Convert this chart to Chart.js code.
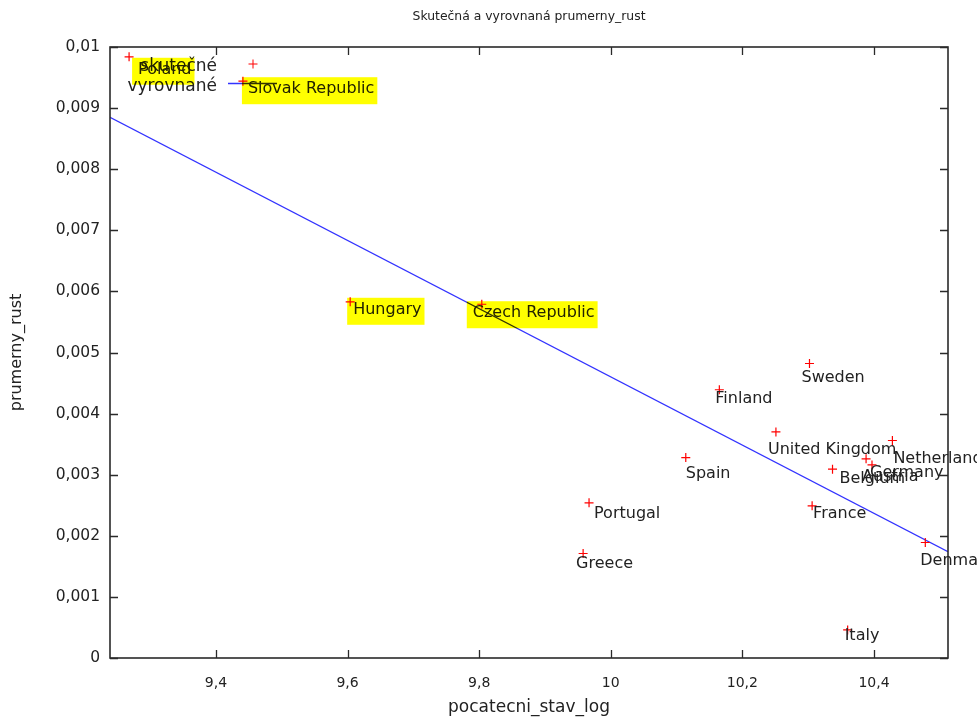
<!DOCTYPE html>
<html>
<head>
<meta charset="utf-8">
<script src="https://cdn.jsdelivr.net/npm/chart.js@4/dist/chart.umd.min.js"></script>
<style>
  html, body { margin: 0; padding: 0; background: #ffffff; }
  #wrap { width: 977px; height: 719px; }
</style>
</head>
<body>
<div id="wrap"><canvas id="chart" width="977" height="719"></canvas></div>
<script>
// Countries with their starting level (log) and average growth
const countries = ['Poland', 'Slovak Republic', 'Hungary', 'Czech Republic', 'Sweden', 'Finland',
  'United Kingdom', 'Spain', 'Netherlands', 'Germany', 'Austria', 'Belgium', 'France',
  'Denmark', 'Italy', 'Portugal', 'Greece'];
const startLog = [9.268, 9.441, 9.604, 9.804, 10.302, 10.165,
  10.251, 10.114, 10.428, 10.397, 10.388, 10.337, 10.306,
  10.478, 10.360, 9.967, 9.958];
const avgGrowth = [0.00984, 0.00944, 0.00583, 0.00579, 0.00482, 0.00439,
  0.00370, 0.00328, 0.00356, 0.00316, 0.00326, 0.00309, 0.00249,
  0.00189, 0.00046, 0.00254, 0.00171];

// Fitted regression line evaluated at the two ends of the x range
const fitX = [9.239, 10.5125];
const fitY = [0.00885, 0.00174];

// Axis ranges and tick values
const xRange = [9.239, 10.5125];
const yRange = [0, 0.01];
const xTicks = [9.4, 9.6, 9.8, 10, 10.2, 10.4];
const yTicks = [0, 0.001, 0.002, 0.003, 0.004, 0.005, 0.006, 0.007, 0.008, 0.009, 0.01];

// Series names
const seriesNames = ['skutečné', 'vyrovnané'];

// Labels marked with a highlighter
const highlighted = ['Poland', 'Slovak Republic', 'Hungary', 'Czech Republic'];

// Where each country label sits relative to its marker (px)
const labelOffsets = {
  'Poland': [9, 13], 'Slovak Republic': [5, 8], 'Hungary': [3, 8], 'Czech Republic': [-9, 9],
  'Sweden': [-8, 14], 'Finland': [-4, 9], 'United Kingdom': [-8, 18], 'Spain': [0, 16],
  'Netherlands': [1, 18], 'Germany': [-2, 8], 'Austria': [-4, 18], 'Belgium': [7, 10],
  'France': [1, 8], 'Denmark': [-5, 18], 'Italy': [-3, 6], 'Portugal': [5, 11], 'Greece': [-7, 10]
};

const RED = '#ff0000';
const BLUE = '#3333ff';
const FRAME = '#2a2a2a';
const TEXT = '#222222';
const FONT = 'DejaVu Sans';

const fmtComma = (v, d) => String(Number(v.toFixed(d))).replace('.', ',');

// Frame with inward tick marks on all four sides
const framePlugin = {
  id: 'frame',
  afterDatasetsDraw(chart) {
    const { ctx, chartArea: a, scales } = chart;
    ctx.save();
    ctx.strokeStyle = FRAME;
    ctx.lineWidth = 1.6;
    ctx.strokeRect(a.left, a.top, a.right - a.left, a.bottom - a.top);
    ctx.lineWidth = 1.3;
    const tl = 8;
    ctx.beginPath();
    scales.x.ticks.forEach(t => {
      const px = Math.round(scales.x.getPixelForValue(t.value)) + 0.5;
      ctx.moveTo(px, a.bottom); ctx.lineTo(px, a.bottom - tl);
      ctx.moveTo(px, a.top); ctx.lineTo(px, a.top + tl);
    });
    scales.y.ticks.forEach(t => {
      const py = Math.round(scales.y.getPixelForValue(t.value)) + 0.5;
      ctx.moveTo(a.left, py); ctx.lineTo(a.left + tl, py);
      ctx.moveTo(a.right, py); ctx.lineTo(a.right - tl, py);
    });
    ctx.stroke();
    ctx.restore();
  }
};

// Country names next to the markers
const labelPlugin = {
  id: 'countryLabels',
  afterDatasetsDraw(chart) {
    const { ctx } = chart;
    const meta = chart.getDatasetMeta(0);
    ctx.save();
    ctx.font = '16px "' + FONT + '"';
    ctx.fillStyle = TEXT;
    ctx.textAlign = 'left';
    ctx.textBaseline = 'middle';
    countries.forEach((name, i) => {
      const el = meta.data[i];
      const off = labelOffsets[name] || [4, 10];
      ctx.fillText(name, el.x + off[0], el.y + off[1]);
    });
    ctx.restore();
  }
};

// Key inside the plot, top left
const keyPlugin = {
  id: 'key',
  afterDatasetsDraw(chart) {
    const { ctx, chartArea: a } = chart;
    const textRight = a.left + 107;
    const sampleX = a.left + 143;
    const rows = [a.top + 20, a.top + 40];
    ctx.save();
    ctx.font = '17px "' + FONT + '"';
    ctx.fillStyle = TEXT;
    ctx.textAlign = 'right';
    ctx.textBaseline = 'middle';
    ctx.fillText(seriesNames[0], textRight, rows[0]);
    ctx.fillText(seriesNames[1], textRight, rows[1]);
    // red cross sample
    ctx.strokeStyle = RED;
    ctx.lineWidth = 1;
    ctx.beginPath();
    ctx.moveTo(sampleX - 4.5, rows[0] - 3); ctx.lineTo(sampleX + 4.5, rows[0] - 3);
    ctx.moveTo(sampleX, rows[0] - 7.5); ctx.lineTo(sampleX, rows[0] + 1.5);
    ctx.stroke();
    // blue line sample
    ctx.strokeStyle = BLUE;
    ctx.lineWidth = 1.3;
    ctx.beginPath();
    ctx.moveTo(sampleX - 25, rows[1] - 3.5); ctx.lineTo(sampleX + 24, rows[1] - 3.5);
    ctx.stroke();
    ctx.restore();
  }
};

// Title and axis titles
const titlesPlugin = {
  id: 'titles',
  afterDraw(chart) {
    const { ctx, chartArea: a } = chart;
    const cx = (a.left + a.right) / 2;
    const cy = (a.top + a.bottom) / 2;
    ctx.save();
    ctx.fillStyle = TEXT;
    ctx.textAlign = 'center';
    ctx.textBaseline = 'middle';
    ctx.font = '12.4px "' + FONT + '"';
    ctx.fillText('Skutečná a vyrovnaná prumerny_rust', cx, 17);
    ctx.font = '17px "' + FONT + '"';
    ctx.fillText('pocatecni_stav_log', cx, 708);
    ctx.translate(17, cy);
    ctx.rotate(-Math.PI / 2);
    ctx.font = '16px "' + FONT + '"';
    ctx.fillText('prumerny_rust', 0, 0);
    ctx.restore();
  }
};

// Yellow highlighter strokes over selected labels (multiplied onto the drawing)
const highlightPlugin = {
  id: 'highlight',
  afterDraw(chart) {
    const { ctx } = chart;
    const meta = chart.getDatasetMeta(0);
    ctx.save();
    ctx.font = '16px "' + FONT + '"';
    ctx.globalCompositeOperation = 'multiply';
    ctx.fillStyle = '#ffff00';
    highlighted.forEach(name => {
      const i = countries.indexOf(name);
      const el = meta.data[i];
      const off = labelOffsets[name];
      const w = ctx.measureText(name).width;
      const x0 = el.x + off[0] - 6;
      const y0 = el.y + off[1] - 12;
      ctx.fillRect(x0, y0, w + 9, 27);
    });
    ctx.restore();
  }
};

new Chart(document.getElementById('chart'), {
  type: 'scatter',
  data: {
    datasets: [
      {
        label: seriesNames[0],
        data: countries.map((c, i) => ({ x: startLog[i], y: avgGrowth[i] })),
        pointStyle: 'cross',
        pointRadius: 4.5,
        pointHoverRadius: 4.5,
        borderColor: RED,
        backgroundColor: RED,
        pointBorderColor: RED,
        pointBackgroundColor: RED,
        pointBorderWidth: 1.2,
        showLine: false
      },
      {
        label: seriesNames[1],
        data: fitX.map((x, i) => ({ x: x, y: fitY[i] })),
        showLine: true,
        pointRadius: 0,
        borderColor: BLUE,
        borderWidth: 1.3,
        fill: false
      }
    ]
  },
  options: {
    responsive: false,
    animation: false,
    devicePixelRatio: 1,
    events: [],
    layout: { padding: { left: 0, right: 29, top: 47, bottom: 0 } },
    plugins: {
      legend: { display: false },
      title: { display: false },
      tooltip: { enabled: false }
    },
    scales: {
      x: {
        type: 'linear',
        min: xRange[0],
        max: xRange[1],
        afterBuildTicks: s => { s.ticks = xTicks.map(v => ({ value: v })); },
        afterFit: s => { s.height = 61; },
        grid: { display: false, drawTicks: false },
        border: { display: false },
        ticks: {
          padding: 17,
          autoSkip: false,
          maxRotation: 0,
          color: TEXT,
          font: { family: FONT, size: 14 },
          callback: v => fmtComma(v, 1)
        }
      },
      y: {
        type: 'linear',
        min: yRange[0],
        max: yRange[1],
        afterBuildTicks: s => { s.ticks = yTicks.map(v => ({ value: v })); },
        afterFit: s => { s.width = 110; },
        grid: { display: false, drawTicks: false },
        border: { display: false },
        ticks: {
          padding: 10,
          autoSkip: false,
          color: TEXT,
          font: { family: FONT, size: 15.5 },
          callback: v => fmtComma(v, 3)
        }
      }
    }
  },
  plugins: [framePlugin, labelPlugin, keyPlugin, titlesPlugin, highlightPlugin]
});
</script>
</body>
</html>
